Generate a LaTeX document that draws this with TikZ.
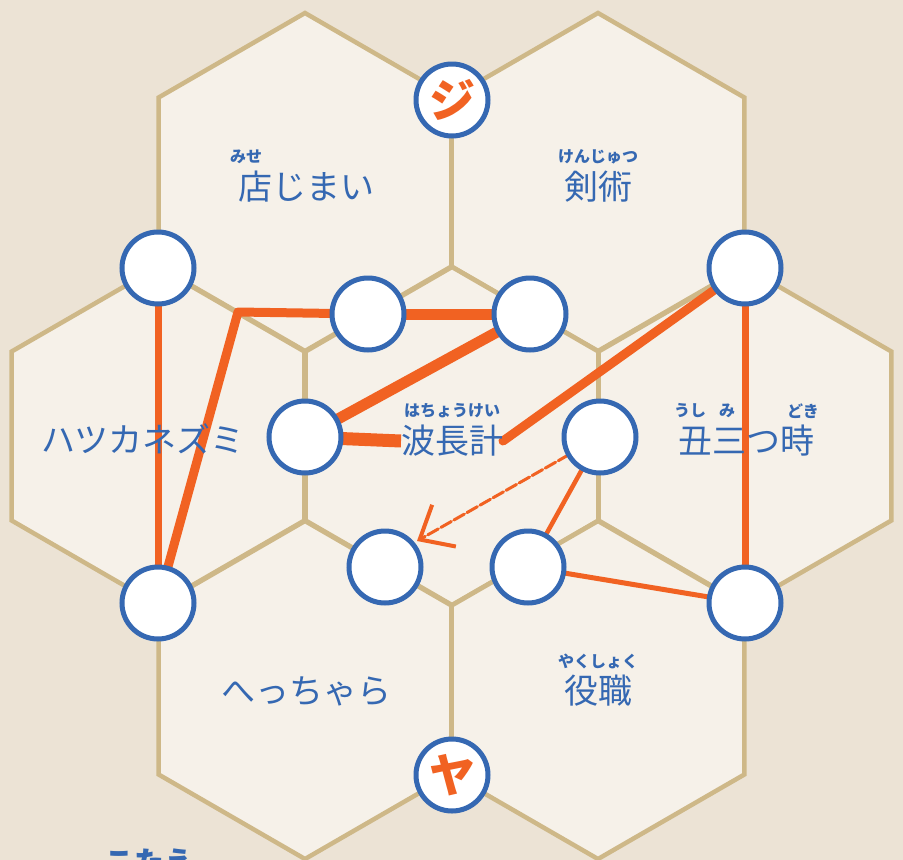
\documentclass[tikz,border=0pt]{standalone}
\usepackage{fontspec}
\newfontfamily\jpfont{Noto Sans CJK JP}
\usetikzlibrary{positioning}
\usetikzlibrary{shapes,shapes.geometric,arrows.meta,backgrounds,calc}
\usepackage{color}
\definecolor{paper}{RGB}{236,227,213}
\definecolor{cellfill}{RGB}{246,241,233}
\definecolor{cellline}{RGB}{206,184,136}
\definecolor{inkblue}{RGB}{53,104,178}
\definecolor{brush}{RGB}{241,98,34}
\pgfdeclarelayer{strokes}
\pgfsetlayers{background,strokes,main}
\tikzset{
    % Define brush stroke style
    brushline/.style={
           draw=brush,
           line cap=round,
           line join=round,},
    % Define answer spot style
    spot/.style={
           circle,
           draw=inkblue,
           fill=white,
           line width=5pt,
           minimum size=\spotsize,
           inner sep=0pt,}
}
\newcommand{\spotsize}{72pt}
\newcommand{\cellsize}{338pt}

\begin{document}
\begin{tikzpicture}[x=1pt, y=-1pt, outer sep=0pt]
\tikzstyle{hexcell}=[regular polygon, regular polygon sides=6, shape border rotate=30,
    minimum size=\cellsize, inner sep=0pt, draw=cellline, fill=cellfill, line width=4.5pt]
%
\tikzstyle{bigword}=[font=\jpfont\fontsize{34}{40}\selectfont, text=inkblue, inner sep=0pt]
%
\tikzstyle{ruby}=[font=\jpfont\bfseries\fontsize{16}{18}\selectfont, text=inkblue, inner sep=0pt]
%
\tikzstyle{kana}=[font=\jpfont\bfseries\fontsize{46}{50}\selectfont, text=brush, inner sep=0pt]

\useasboundingbox (0,0) rectangle (903,860);

\begin{pgfonlayer}{background}
\fill[paper] (0,0) rectangle (903,860);
\node[hexcell] (shopcell) at (305,182) {};
\node[hexcell] (swordcell) at (598,182) {};
\node[hexcell] (mousecell) at (158,436) {};
\node[hexcell] (metercell) at (452,436) {};
\node[hexcell] (nightcell) at (745,436) {};
\node[hexcell] (easycell) at (305,690) {};
\node[hexcell] (postcell) at (598,690) {};
\end{pgfonlayer}

\node[ruby] (shopruby) at (246,157) {みせ};
\node[bigword] (shopword) at (306,187) {店じまい};
\node[ruby] (swordruby) at (598,157) {けんじゅつ};
\node[bigword] (swordword) at (598,187) {剣術};
\node[bigword] (mouseword) at (143,439) {ハツカネズミ};
\node[ruby] (meterruby) at (452,411) {はちょうけい};
\node[bigword] (meterword) at (452,441) {波長計};
\node[ruby] (nightruby1) at (690,411) {うし};
\node[ruby] (nightruby2) at (727,411) {み};
\node[ruby] (nightruby3) at (803,411) {どき};
\node[bigword] (nightword) at (746,441) {丑三つ時};
\node[bigword] (easyword) at (306,691) {へっちゃら};
\node[ruby] (postruby) at (598,661) {やくしょく};
\node[bigword] (postword) at (598,691) {役職};

\node[spot] (ji) at (452,100) {};
\node[kana] at (ji) {ジ};
\node[spot] (ya) at (452,775) {};
\node[kana] at (ya) {ヤ};

\node[spot] (a) at (158,268) {};
\node[spot] (b) at (368,314) {};
\node[spot] (c) at (530,314) {};
\node[spot] (d) at (745,268) {};
\node[spot] (e) at (305,437) {};
\node[spot] (f) at (600,437) {};
\node[spot] (g) at (385,567) {};
\node[spot] (h) at (528,567) {};
\node[spot] (i) at (158,603) {};
\node[spot] (j) at (745,603) {};

\coordinate (bknee) at (238,312);
\coordinate (arrowend) at (417,541);

\begin{pgfonlayer}{strokes}
\path[brushline, line width=7pt] (a) edge (i);
\draw[brushline, line width=9pt] (b) -- (bknee) -- (i);
\path[brushline, line width=11pt] (b) edge (c);
\path[brushline, line width=11pt] (c) edge (e);
\path[brushline, line width=13pt, line cap=butt] (e) edge (meterword.west);
\path[brushline, line width=9pt] (d) edge (meterword.east);
\path[brushline, line width=7pt] (d) edge (j);
\draw[brushline, line width=3pt, dash pattern=on 12pt off 3pt,
    -{Straight Barb[length=28pt,width=48pt,line width=4pt]}] (f) -- (arrowend);
\path[brushline, line width=4.5pt] (f) edge (h);
\path[brushline, line width=5pt] (h) edge (j);
\end{pgfonlayer}

\node[font=\jpfont\bfseries\fontsize{30}{34}\selectfont, text=inkblue, inner sep=0pt,
    anchor=north west] (answer) at (104,849) {こたえ};

\end{tikzpicture}
\end{document}
